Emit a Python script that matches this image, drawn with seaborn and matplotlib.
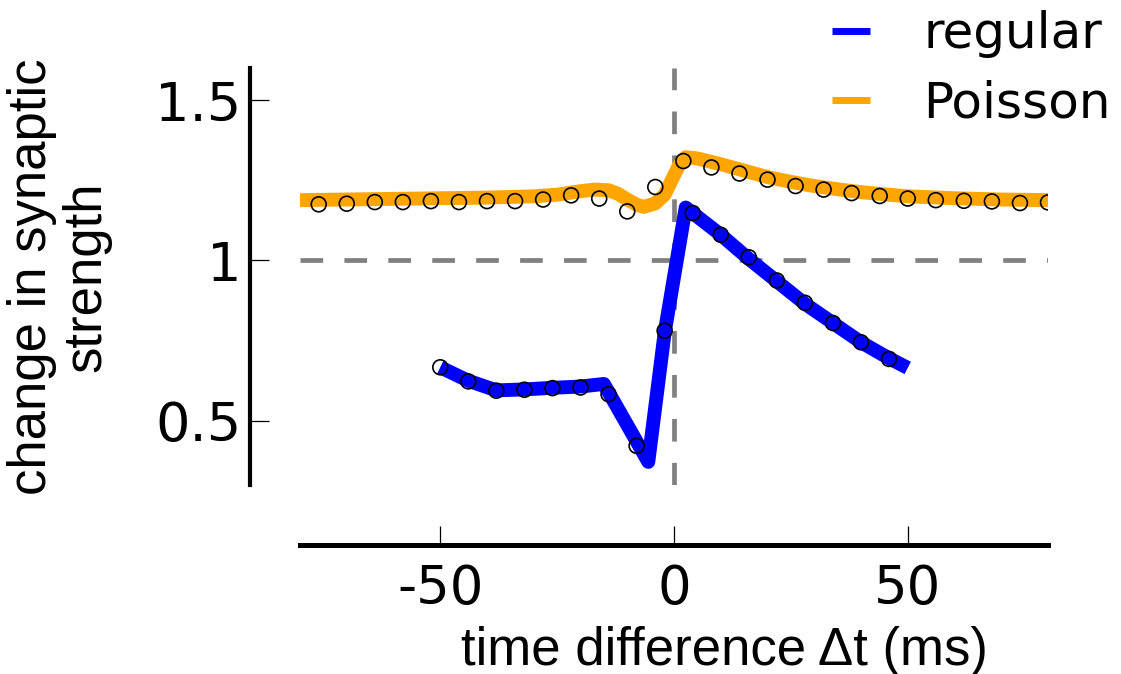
import numpy as np
import pandas as pd
import matplotlib
matplotlib.use("Agg")
import matplotlib.pyplot as plt
import seaborn as sns

# ---- data ----
poisson_line_t = [-80, -70, -60, -50, -40, -30, -25, -20, -17, -14, -12, -10, -8, -6.5, -4, -2, -0.5, 1, 2.5,
                  5, 10, 15, 20, 25, 30, 35, 40, 45, 50, 60, 70, 80]
poisson_line_v = [1.188, 1.19, 1.192, 1.194, 1.196, 1.2, 1.205, 1.216, 1.221, 1.219, 1.208, 1.19, 1.174, 1.167,
                  1.178, 1.205, 1.25, 1.295, 1.322, 1.318, 1.3, 1.28, 1.26, 1.245, 1.232, 1.222, 1.213,
                  1.206, 1.2, 1.194, 1.19, 1.188]

poisson_pts_t = list(range(-76, 81, 6))
poisson_pts_v = [1.175, 1.177, 1.182, 1.182, 1.185, 1.182, 1.185, 1.185, 1.19, 1.203, 1.193, 1.153, 1.229,
                 1.31, 1.29, 1.271, 1.252, 1.232, 1.221, 1.21, 1.201, 1.193, 1.188, 1.186, 1.184, 1.179, 1.181]

regular_line_t = [-50, -44, -38, -32, -26, -20, -15, -5.5, -2, 2.5, 10, 16, 22, 28, 34, 40, 46, 50]
regular_line_v = [0.667, 0.625, 0.595, 0.598, 0.603, 0.607, 0.615, 0.372, 0.775, 1.165, 1.08, 1.005, 0.935,
                  0.865, 0.805, 0.745, 0.695, 0.665]

regular_pts_t = list(range(-50, 47, 6))
regular_pts_v = [0.667, 0.623, 0.594, 0.597, 0.602, 0.604, 0.583, 0.422, 0.781, 1.148, 1.08, 1.01, 0.9375,
                 0.868, 0.805, 0.745, 0.693]

x_ticks = [-50, 0, 50]
x_tick_labels = ["-50", "0", "50"]
y_ticks = [0.5, 1.0, 1.5]
y_tick_labels = ["0.5", "1", "1.5"]

series_names = ["regular", "Poisson"]
series_colors = ["#0000ff", "#ffa500"]

# ---- figure ----
sns.set_style("white")
plt.rcParams["font.family"] = ["DejaVu Sans"]
plt.rcParams["text.color"] = "black"
plt.rcParams["axes.labelcolor"] = "black"
plt.rcParams["xtick.color"] = "black"
plt.rcParams["ytick.color"] = "black"

W, H = 1121, 674
fig = plt.figure(figsize=(W / 100, H / 100), dpi=100)
ax = fig.add_axes([300 / W, 1 - 485 / H, 748 / W, 417 / H])

lines_df = pd.concat([
    pd.DataFrame({"t": regular_line_t, "v": regular_line_v, "series": series_names[0]}),
    pd.DataFrame({"t": poisson_line_t, "v": poisson_line_v, "series": series_names[1]}),
])
pts_df = pd.concat([
    pd.DataFrame({"t": regular_pts_t, "v": regular_pts_v, "series": series_names[0]}),
    pd.DataFrame({"t": poisson_pts_t, "v": poisson_pts_v, "series": series_names[1]}),
])

# reference dashed lines
ax.axhline(1.0, color="#808080", lw=3.4, dashes=(4.8, 4.5), zorder=1)
ax.axvline(0.0, color="#808080", lw=3.4, dashes=(4.8, 4.5), zorder=1)

sns.lineplot(data=lines_df, x="t", y="v", hue="series", hue_order=series_names,
             palette=series_colors, lw=10, ax=ax, sort=False, estimator=None,
             solid_capstyle="butt", solid_joinstyle="round", zorder=2)
sns.scatterplot(data=pts_df, x="t", y="v", ax=ax, s=115, facecolor="none",
                edgecolor="black", linewidth=1.2, zorder=3, legend=False)

ax.set_xlim(-80, 80)
ax.set_ylim(0.3, 1.6)

sns.despine(ax=ax, offset={"left": 36, "bottom": 43})
ax.spines["left"].set_linewidth(3)
ax.spines["bottom"].set_linewidth(3.6)
ax.spines["left"].set_color("black")
ax.spines["bottom"].set_color("black")

ax.set_xticks(x_ticks)
ax.set_xticklabels(x_tick_labels, family=["Liberation Sans Narrow", "DejaVu Sans"], fontsize=38,
                   color="black")
ax.set_yticks(y_ticks)
ax.set_yticklabels(y_tick_labels, family=["DejaVu Sans"], fontsize=39, color="black")
ax.tick_params(axis="x", direction="in", length=14, width=0.9, color="black", pad=13, bottom=True)
ax.tick_params(axis="y", direction="in", length=14, width=0.9, color="black", pad=6, left=True)

ax.set_xlabel("time difference \u0394t (ms)", family=["Liberation Sans", "DejaVu Sans"], fontsize=38,
              color="black")
ax.xaxis.set_label_coords(0.568, -0.337)
ax.xaxis.label.set_va("top")
ax.set_ylabel("change in synaptic\nstrength", family=["Liberation Sans", "DejaVu Sans"], fontsize=38,
              linespacing=1.12, color="black")
ax.yaxis.set_label_coords(-0.252, 0.5)

leg = ax.legend(loc="upper left", bbox_to_anchor=(832 / W, 1 - 10 / H), bbox_transform=fig.transFigure,
                frameon=False, fontsize=36, handlelength=0.76, handletextpad=1.06,
                labelspacing=0.42, borderpad=0, borderaxespad=0)
for txt in leg.get_texts():
    txt.set_color("black")
for h in leg.get_lines():
    h.set_linewidth(5)
    h.set_solid_capstyle("butt")

fig.savefig("out.png", dpi=100)
